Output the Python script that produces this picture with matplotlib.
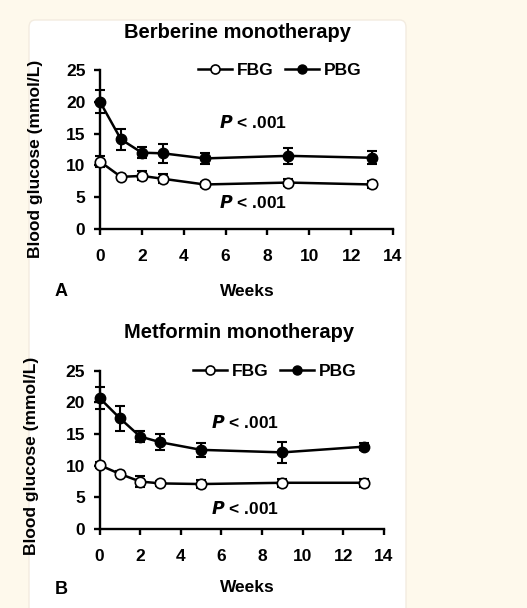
import matplotlib
matplotlib.use("Agg")
import matplotlib.pyplot as plt
from matplotlib.patches import FancyBboxPatch
from matplotlib.lines import Line2D

plt.rcParams['font.family'] = ['Liberation Sans', 'DejaVu Sans']
plt.rcParams['font.weight'] = 'bold'

weeks = [0, 1, 2, 3, 5, 9, 13]

# Berberine monotherapy
ber_fbg = [10.6, 8.2, 8.35, 7.9, 7.0, 7.3, 7.0]
ber_fbg_err = [0.9, 0.4, 0.7, 0.7, 0.4, 0.5, 0.5]
ber_pbg = [20.0, 14.1, 12.0, 11.9, 11.1, 11.5, 11.2]
ber_pbg_err = [1.8, 1.7, 0.9, 1.5, 0.9, 1.25, 1.0]

# Metformin monotherapy
met_fbg = [10.1, 8.7, 7.5, 7.2, 7.1, 7.3, 7.3]
met_fbg_err = [0.5, 0.4, 0.9, 0.4, 0.6, 0.6, 0.6]
met_pbg = [20.7, 17.5, 14.6, 13.7, 12.5, 12.1, 13.0]
met_pbg_err = [1.7, 2.0, 0.8, 1.3, 1.1, 1.6, 0.6]

xticks = [0, 2, 4, 6, 8, 10, 12, 14]
yticks = [0, 5, 10, 15, 20, 25]

W, H = 527, 608
fig = plt.figure(figsize=(W / 100, H / 100), dpi=100)
fig.patch.set_facecolor('#fef9ec')

def fx(px):
    return px / W

def fy(py):
    return 1 - py / H

panel = FancyBboxPatch((fx(29), fy(640)), fx(406) - fx(29), fy(20) - fy(640),
                       boxstyle="round,pad=0,rounding_size=0.012",
                       transform=fig.transFigure, facecolor='white',
                       edgecolor='#f3ece0', linewidth=1.0, zorder=-10)
fig.add_artist(panel)

FS = 12.5


def make_panel(rect, fbg, fbg_err, pbg, pbg_err, title, title_xy, leg_xy,
               p1_xy, p2_xy, weeks_xy, letter, letter_xy, ylab_coords):
    ax = fig.add_axes(rect)
    ax.set_zorder(1)
    ax.set_facecolor('none')
    ax.set_xlim(0, 14)
    ax.set_ylim(0, 25)
    for s in ['top', 'right']:
        ax.spines[s].set_visible(False)
    for s in ['left', 'bottom']:
        ax.spines[s].set_linewidth(1.7)
    ax.set_xticks(xticks)
    ax.set_yticks(yticks)
    ax.tick_params(axis='both', direction='out', length=4.5, width=1.7,
                   labelsize=FS)
    ax.tick_params(axis='x', pad=10)
    ax.tick_params(axis='y', pad=6)
    for lab in ax.get_xticklabels() + ax.get_yticklabels():
        lab.set_fontweight('bold')

    ax.errorbar(weeks, pbg, yerr=pbg_err, fmt='none', ecolor='black',
                elinewidth=1.5, capsize=3.5, capthick=1.5, clip_on=False, zorder=3)
    ax.errorbar(weeks, fbg, yerr=fbg_err, fmt='none', ecolor='black',
                elinewidth=1.5, capsize=3.5, capthick=1.5, clip_on=False, zorder=3)
    ax.plot(weeks, pbg, '-o', color='black', lw=1.8, ms=7.5,
            mfc='black', mec='black', clip_on=False, zorder=4)
    ax.plot(weeks, fbg, '-o', color='black', lw=1.8, ms=7.5,
            mfc='white', mec='black', mew=1.2, clip_on=False, zorder=5)

    ax.set_ylabel('Blood glucose (mmol/L)', fontsize=FS, fontweight='bold')
    ax.yaxis.set_label_coords(*ylab_coords)

    h1 = Line2D([], [], color='black', lw=1.8, marker='o', ms=6.5,
                mfc='white', mec='black', mew=1.2)
    h2 = Line2D([], [], color='black', lw=1.8, marker='o', ms=6.5,
                mfc='black', mec='black')
    ax.legend([h1, h2], ['FBG', 'PBG'], ncol=2, frameon=False,
              loc='center left', bbox_to_anchor=(fx(leg_xy[0]), fy(leg_xy[1])),
              bbox_transform=fig.transFigure, handlelength=1.95,
              handletextpad=0.3, columnspacing=0.65, borderpad=0,
              borderaxespad=0, prop={'size': FS, 'weight': 'bold'})

    fig.text(fx(title_xy[0]), fy(title_xy[1]), title, ha='center', va='center',
             fontsize=14.5, fontweight='bold')
    for pxy in (p1_xy, p2_xy):
        fig.text(fx(pxy[0]), fy(pxy[1]), r'$\mathbf{\it{P}}$' + ' < .001',
                 ha='left', va='center', fontsize=FS, fontweight='bold')
    fig.text(fx(weeks_xy[0]), fy(weeks_xy[1]), 'Weeks', ha='center',
             va='center', fontsize=FS, fontweight='bold')
    fig.text(fx(letter_xy[0]), fy(letter_xy[1]), letter, ha='center',
             va='center', fontsize=13, fontweight='bold')
    return ax


make_panel([fx(100), fy(229), fx(393) - fx(100), fy(70) - fy(229)],
           ber_fbg, ber_fbg_err, ber_pbg, ber_pbg_err,
           'Berberine monotherapy', (237, 33), (198, 70),
           (219, 123), (219, 203), (247, 292), 'A', (61, 292),
           (-0.195, 0.44))

make_panel([fx(99.5), fy(529), fx(384) - fx(99.5), fy(370.7) - fy(529)],
           met_fbg, met_fbg_err, met_pbg, met_pbg_err,
           'Metformin monotherapy', (239, 333), (193, 371),
           (211, 423), (211, 508), (247, 588), 'B', (61, 590),
           (-0.213, 0.46))

fig.savefig('out.png', dpi=100, facecolor=fig.get_facecolor())
